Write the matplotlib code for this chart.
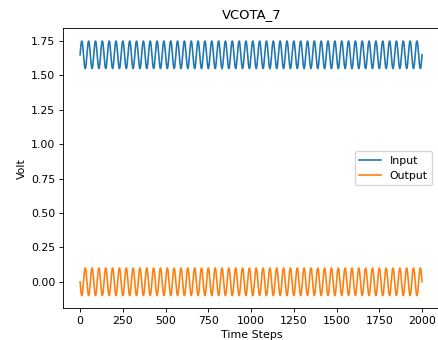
import numpy as np
import matplotlib
matplotlib.use("Agg")
import matplotlib.pyplot as plt

# Sampled VCOTA_7 waveforms
time_steps = np.arange(0, 2001)
input_offset = 1.65      # V
input_amplitude = 0.10   # V
output_offset = 0.0      # V
output_amplitude = -0.10 # V (inverted w.r.t. input)
period_steps = 40

input_volts = input_offset + input_amplitude * np.sin(2 * np.pi * time_steps / period_steps)
output_volts = output_offset + output_amplitude * np.sin(2 * np.pi * time_steps / period_steps)

title = "VCOTA_7"
series_labels = ["Input", "Output"]
xticks = [0, 250, 500, 750, 1000, 1250, 1500, 1750, 2000]
yticks = [0.00, 0.25, 0.50, 0.75, 1.00, 1.25, 1.50, 1.75]

s = 0.79
plt.rcParams.update({
    "font.size": 10 * s,
    "axes.titlesize": 12 * s,
    "axes.labelsize": 10 * s,
    "xtick.labelsize": 10 * s,
    "ytick.labelsize": 10 * s,
    "legend.fontsize": 10 * s,
    "lines.linewidth": 1.5 * s,
    "axes.linewidth": 0.8 * s,
    "xtick.major.size": 3.5 * s,
    "ytick.major.size": 3.5 * s,
    "xtick.major.width": 0.8 * s,
    "ytick.major.width": 0.8 * s,
    "xtick.major.pad": 3.5 * s,
    "ytick.major.pad": 3.5 * s,
})

W, H = 438, 340
fig = plt.figure(figsize=(W / 100, H / 100), dpi=100)
left, right, top, bottom = 63, 440, 28.3, 308.3
ax = fig.add_axes([left / W, 1 - bottom / H, (right - left) / W, (bottom - top) / H])

ax.plot(time_steps, input_volts, label=series_labels[0])
ax.plot(time_steps, output_volts, label=series_labels[1])

ax.set_xticks(xticks)
ax.set_yticks(yticks)
ax.set_xlim(-100, 2105)
ax.set_title(title, pad=9 * s)
ax.set_xlabel("Time Steps", labelpad=4 * s)
ax.set_ylabel("Volt", labelpad=4 * s)
ax.legend(loc="center right", borderaxespad=0.7)

fig.savefig("out.png", dpi=100)
